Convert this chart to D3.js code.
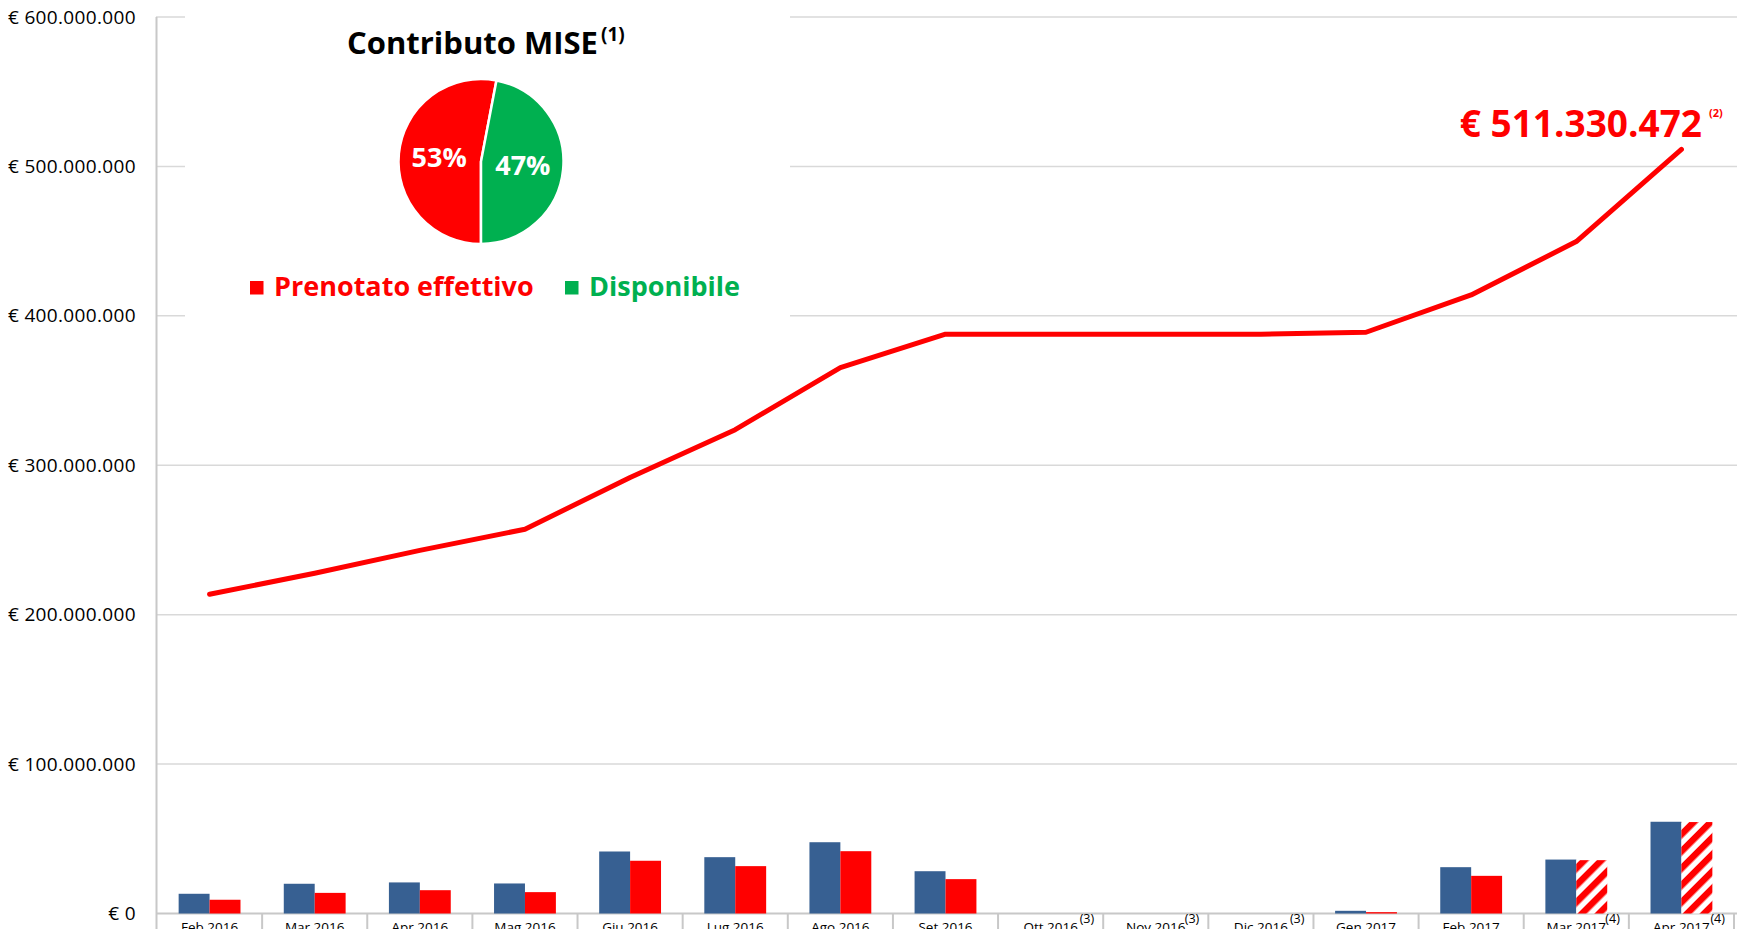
<!DOCTYPE html>
<html>
<head>
<meta charset="utf-8">
<script src="https://cdn.jsdelivr.net/npm/d3@7"></script>
<style>
  html, body { margin: 0; padding: 0; background: #fff; }
  svg text { font-family: "Open Sans", "Noto Sans", sans-serif; }
</style>
</head>
<body>
<svg id="chart" width="1737" height="929"></svg>
<script>
// mesi e note
const mesi = ["Feb 2016","Mar 2016","Apr 2016","Mag 2016","Giu 2016","Lug 2016","Ago 2016","Set 2016",
              "Ott 2016","Nov 2016","Dic 2016","Gen 2017","Feb 2017","Mar 2017","Apr 2017"];
const noteMesi = ["","","","","","","","","(3)","(3)","(3)","","","(4)","(4)"];

// valori in milioni di euro
const barreBlu   = [13.2, 19.9, 20.8, 20.1, 41.5, 37.7, 47.7, 28.3, 0, 0, 0, 1.8, 31.0, 36.1, 61.4];
const barreRosse = [9.2, 13.8, 15.6, 14.3, 35.3, 31.7, 41.7, 23.0, 0, 0, 0, 0.9, 25.2, 35.7, 61.2];
const stimati    = [false,false,false,false,false,false,false,false,false,false,false,false,false,true,true];
const cumulato   = [213.7, 227.7, 243.0, 257.2, 291.8, 323.8, 365.3, 387.7, 387.7, 387.7, 387.7, 389.0, 414.0, 449.7, 511.330472];

const yTicks = [0, 100, 200, 300, 400, 500, 600];

// torta contributo MISE
const quoteNomi = ["Prenotato effettivo", "Disponibile"];
const quoteValori = [53, 47];
const quoteColori = ["#ff0000", "#00b050"];

const svg = d3.select("#chart");
const itIT = d3.formatLocale({decimal: ",", thousands: ".", grouping: [3], currency: ["€ ", ""]});
const fmtEuro = itIT.format("$,.0f");

const x = d3.scaleBand().domain(mesi).range([157, 1734]);
const x1 = d3.scaleBand().domain(["blu","rosso"]).range([0, x.bandwidth()]).paddingOuter(0.7);
const y = d3.scaleLinear().domain([0, 600]).range([913.5, 17]);

// pattern tratteggio
const defs = svg.append("defs");
defs.append("pattern")
    .attr("id", "tratteggio")
    .attr("patternUnits", "userSpaceOnUse")
    .attr("width", 12).attr("height", 12)
    .attr("patternTransform", "rotate(45)")
    .call(p => {
        p.append("rect").attr("width", 12).attr("height", 12).attr("fill", "#fff");
        p.append("rect").attr("width", 6.5).attr("height", 12).attr("fill", "#ff0000");
    });

// griglia
svg.append("g")
    .selectAll("line")
    .data(yTicks.filter(d => d > 0))
    .enter()
    .append("line")
    .attr("x1", 156).attr("x2", 1737)
    .attr("y1", d => y(d)).attr("y2", d => y(d))
    .attr("stroke", "#d9d9d9")
    .attr("stroke-width", 1.5);

// etichette asse y
const yAxis = svg.append("g")
    .attr("transform", "translate(156,0)")
    .call(d3.axisLeft(y).tickValues(yTicks).tickSize(0).tickPadding(20).tickFormat(d => fmtEuro(d * 1e6)));
yAxis.select(".domain").remove();
yAxis.selectAll("text")
    .style("font-size", "19px")
    .style("letter-spacing", "0.35px")
    .attr("fill", "#000");

// riquadro bianco della torta
svg.append("rect")
    .attr("x", 185).attr("y", 0)
    .attr("width", 605).attr("height", 330)
    .attr("fill", "#fff");

// assi
svg.append("line")
    .attr("x1", 156.5).attr("x2", 156.5)
    .attr("y1", 17).attr("y2", 929)
    .attr("stroke", "#c8c8c8").attr("stroke-width", 2);
svg.append("line")
    .attr("x1", 156).attr("x2", 1737)
    .attr("y1", y(0)).attr("y2", y(0))
    .attr("stroke", "#c8c8c8").attr("stroke-width", 2);
svg.append("g")
    .selectAll("line")
    .data(mesi.slice(1).map(m => x(m)).concat([x.range()[1]]))
    .enter()
    .append("line")
    .attr("x1", d => d).attr("x2", d => d)
    .attr("y1", y(0)).attr("y2", 929)
    .attr("stroke", "#c8c8c8").attr("stroke-width", 2);

// barre
const gruppi = svg.append("g")
    .selectAll("g")
    .data(mesi)
    .enter()
    .append("g")
    .attr("transform", d => `translate(${x(d)},0)`);

gruppi.append("rect")
    .attr("x", x1("blu"))
    .attr("width", x1.bandwidth())
    .attr("y", (d,i) => y(barreBlu[i]))
    .attr("height", (d,i) => y(0) - y(barreBlu[i]))
    .attr("fill", "#376092");

gruppi.append("rect")
    .attr("x", x1("rosso"))
    .attr("width", x1.bandwidth())
    .attr("y", (d,i) => y(barreRosse[i]))
    .attr("height", (d,i) => y(0) - y(barreRosse[i]))
    .attr("fill", (d,i) => stimati[i] ? "url(#tratteggio)" : "#ff0000");

// etichette asse x
svg.append("g")
    .selectAll("text")
    .data(mesi)
    .enter()
    .append("text")
    .attr("x", d => x(d) + x.bandwidth() / 2)
    .attr("y", 932)
    .attr("text-anchor", "middle")
    .style("font-size", "13.5px")
    .attr("fill", "#000")
    .text(d => d);

svg.append("g")
    .selectAll("text")
    .data(mesi)
    .enter()
    .append("text")
    .attr("x", d => x(d) + x.bandwidth() / 2 + 29)
    .attr("y", 923)
    .style("font-size", "12.5px")
    .attr("fill", "#000")
    .text((d,i) => noteMesi[i]);

// linea cumulata
const linea = d3.line()
    .x((d,i) => x(mesi[i]) + x.bandwidth() / 2)
    .y(d => y(d));

svg.append("path")
    .datum(cumulato)
    .attr("d", linea)
    .attr("fill", "none")
    .attr("stroke", "#ff0000")
    .attr("stroke-width", 5)
    .attr("stroke-linecap", "round")
    .attr("stroke-linejoin", "round");

// etichetta ultimo valore
svg.append("text")
    .attr("x", 1702).attr("y", 137)
    .attr("text-anchor", "end")
    .style("font-size", "37px")
    .style("font-weight", 700)
    .attr("fill", "#ff0000")
    .text(fmtEuro(cumulato[cumulato.length - 1] * 1e6));
svg.append("text")
    .attr("x", 1709).attr("y", 117)
    .style("font-size", "11px")
    .style("font-weight", 700)
    .attr("fill", "#ff0000")
    .text("(2)");

// torta
const centro = [481, 161.5];
const raggio = 82.5;
const pie = d3.pie().sort(null).startAngle(Math.PI).endAngle(3 * Math.PI);
const arco = d3.arc().innerRadius(0).outerRadius(raggio);
const arcoEtichette = d3.arc().innerRadius(42).outerRadius(42);

const torta = svg.append("g")
    .attr("transform", `translate(${centro[0]},${centro[1]})`);

torta.selectAll("path")
    .data(pie(quoteValori))
    .enter()
    .append("path")
    .attr("d", arco)
    .attr("fill", (d,i) => quoteColori[i])
    .attr("stroke", "#fff")
    .attr("stroke-width", 2.5);

torta.selectAll("text")
    .data(pie(quoteValori))
    .enter()
    .append("text")
    .attr("transform", d => `translate(${arcoEtichette.centroid(d)})`)
    .attr("text-anchor", "middle")
    .attr("dy", "0.36em")
    .style("font-size", "27px")
    .style("font-weight", 700)
    .attr("fill", "#fff")
    .text(d => d.value + "%");

// titolo
svg.append("text")
    .attr("x", 347).attr("y", 54)
    .style("font-size", "31px")
    .style("font-weight", 700)
    .attr("fill", "#000")
    .text("Contributo MISE");
svg.append("text")
    .attr("x", 601).attr("y", 41)
    .style("font-size", "19px")
    .style("font-weight", 700)
    .attr("fill", "#000")
    .text("(1)");

// legenda
const legendaX = [250, 565];
const legenda = svg.append("g")
    .selectAll("g")
    .data(quoteNomi)
    .enter()
    .append("g")
    .attr("transform", (d,i) => `translate(${legendaX[i]},0)`);

legenda.append("rect")
    .attr("x", 0).attr("y", 281)
    .attr("width", 13.5).attr("height", 13.5)
    .attr("fill", (d,i) => quoteColori[i]);

legenda.append("text")
    .attr("x", 24).attr("y", 296)
    .style("font-size", "27px")
    .style("font-weight", 700)
    .attr("fill", (d,i) => quoteColori[i])
    .text(d => d);
</script>
</body>
</html>
